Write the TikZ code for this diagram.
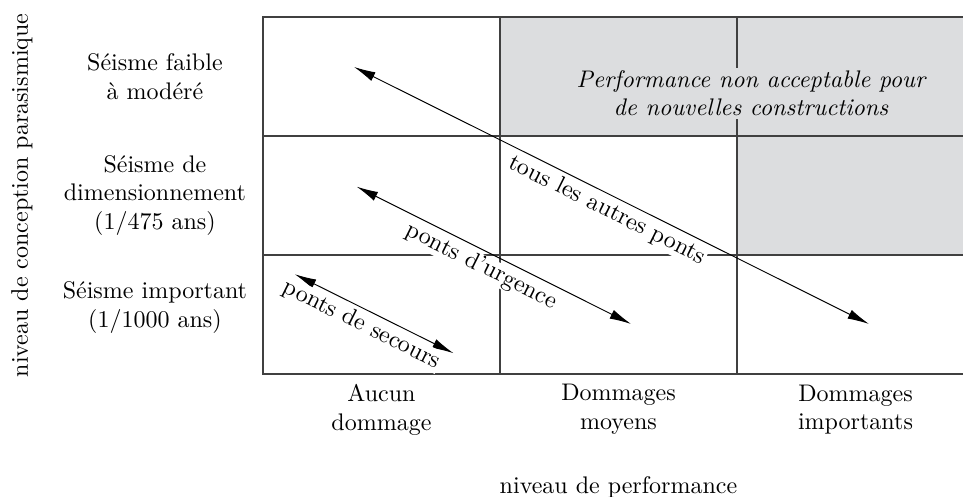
\documentclass[tikz,border=0pt]{standalone}
\usepackage{amsmath,amssymb}
\usepackage{tikz}
\usetikzlibrary{arrows.meta}
\definecolor{grisclair}{RGB}{220,221,223}

\begin{document}
\begin{tikzpicture}[x=3.47cm, y=1.742cm, >={Latex[length=9pt,width=4pt]},
  grille/.style={draw=black!75, line width=0.6pt},
  etiquette/.style={fill=white, inner sep=0.4pt, outer sep=1.6pt, sloped, below}]
\useasboundingbox (-1.1097,-1.0336) rectangle (2.9536,3.1429);
\clip (-1.1097,-1.0336) rectangle (2.9536,3.1429);
\fill[grisclair] (1,2) rectangle (3,3);
\fill[grisclair] (2,1) rectangle (3,2);
\foreach \x in {0,1,2}
   \foreach \y in {0,1,2}
      \draw[grille] (\x,\y) rectangle (\x+1,\y+1);
\node[fill=grisclair, inner sep=1pt, align=center, font=\itshape] (inacceptable) at (2.059,2.36)
   {Performance non acceptable pour\\de nouvelles constructions};
\node[align=center] (faible) at (-0.456,2.5) {Séisme faible\\à modéré};
\node[align=center] (dimension) at (-0.456,1.5) {Séisme de\\dimensionnement\\(1/475 ans)};
\node[align=center] (important) at (-0.456,0.56) {Séisme important\\(1/1000 ans)};
\node[rotate=90] (conception) at (-1.017,1.5) {niveau de conception parasismique};
\node[align=center] (aucun) at (0.5,-0.3) {Aucun\\dommage};
\node[align=center] (moyens) at (1.5,-0.3) {Dommages\\moyens};
\node[align=center] (importants) at (2.5,-0.3) {Dommages\\importants};
\node (performance) at (1.5,-0.95) {niveau de performance};
\coordinate (autresA) at (0.384,2.580);
\coordinate (autresB) at (2.557,0.420);
\coordinate (urgenceA) at (0.395,1.574);
\coordinate (urgenceB) at (1.553,0.420);
\coordinate (secoursA) at (0.134,0.838);
\coordinate (secoursB) at (0.804,0.174);
\draw[<->] (autresA) -- (autresB) node[etiquette, pos=0.505] (autres) {tous les autres ponts};
\draw[<->] (urgenceA) -- (urgenceB) node[etiquette, pos=0.48] (urgence) {ponts d'urgence};
\draw[<->] (secoursA) -- (secoursB) node[etiquette, pos=0.465] (secours) {ponts de secours};
\end{tikzpicture}
\end{document}
